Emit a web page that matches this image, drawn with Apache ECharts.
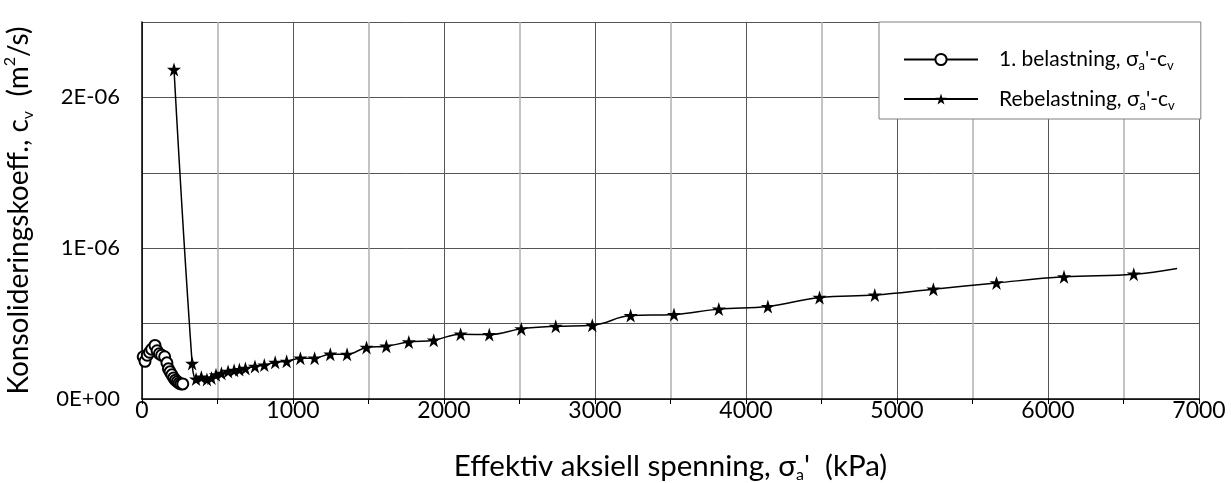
<!DOCTYPE html>
<html>
<head>
<meta charset="utf-8">
<script src="https://cdn.jsdelivr.net/npm/echarts@6/dist/echarts.min.js"></script>
<style>
html,body{margin:0;padding:0;background:#fff;}
#chart{width:1231px;height:483px;}
</style>
</head>
<body>
<div id="chart"></div>
<script>
// 1. belastning (first loading): effective axial stress (kPa) and cv (x 1E-06 m2/s)
const belastningX  = [8, 20, 35, 50, 64, 86, 100, 115, 130, 150, 165, 175, 186, 198, 210, 222, 234, 246, 258, 270];
const belastningCv = [0.28, 0.25, 0.29, 0.31, 0.33, 0.355, 0.32, 0.30, 0.29, 0.28, 0.24, 0.20, 0.18, 0.16, 0.14, 0.125, 0.115, 0.105, 0.10, 0.10];

// Rebelastning (reloading)
const rebelastningX  = [212, 332, 358, 393, 430, 460, 490, 526, 570, 610, 645, 685, 748, 810, 882, 958, 1049, 1143, 1247, 1358, 1487, 1618, 1767, 1932, 2110, 2300, 2512, 2740, 2982, 3236, 3523, 3820, 4145, 4487, 4853, 5241, 5659, 6106, 6568, 6855];
const rebelastningCv = [2.185, 0.236, 0.132, 0.144, 0.130, 0.140, 0.160, 0.170, 0.183, 0.190, 0.195, 0.203, 0.216, 0.225, 0.243, 0.250, 0.271, 0.271, 0.297, 0.296, 0.342, 0.350, 0.378, 0.390, 0.430, 0.427, 0.465, 0.482, 0.489, 0.553, 0.560, 0.596, 0.613, 0.673, 0.689, 0.728, 0.770, 0.810, 0.828, 0.866];
// last reloading point is drawn without a marker
const rebelastningNoMarker = [39];

const xTickLabels = ['0', '1000', '2000', '3000', '4000', '5000', '6000', '7000'];
const yTickLabels = ['0E+00', '1E-06', '2E-06'];

const seriesNames = ['1. belastning', 'Rebelastning'];

const FONT = 'Lato';
const STAR = 'path://M50,0 L61.2,34.5 L97.6,34.5 L68.2,55.9 L79.4,90.5 L50,69.1 L20.6,90.5 L31.8,55.9 L2.4,34.5 L38.8,34.5 Z';

const chart = echarts.init(document.getElementById('chart'), null, {renderer: 'canvas'});

const belData = belastningX.map((x, i) => [x, belastningCv[i]]);
const rebData = rebelastningX.map((x, i) => {
  const v = [x, rebelastningCv[i]];
  return rebelastningNoMarker.indexOf(i) >= 0 ? {value: v, symbol: 'none'} : v;
});

function titleRich(size) {
  return {
    t:   {fontFamily: FONT, fontSize: size, color: '#000', lineHeight: 34},
    sub: {fontFamily: FONT, fontSize: 16, color: '#000', lineHeight: 16, verticalAlign: 'bottom'},
    sup: {fontFamily: FONT, fontSize: 16, color: '#000', lineHeight: 16, verticalAlign: 'top'}
  };
}
const legendRich = {
  t:   {fontFamily: FONT, fontSize: 21, color: '#000', lineHeight: 26},
  sub: {fontFamily: FONT, fontSize: 13, color: '#000', lineHeight: 12, verticalAlign: 'bottom'}
};

chart.setOption({
  animation: false,
  backgroundColor: '#fff',
  grid: {left: 142, right: 32, top: 22, bottom: 84, containLabel: false, outerBoundsMode: 'none'},
  legend: {
    orient: 'vertical',
    left: 879,
    top: 22,
    padding: [27, 26, 7, 24],
    itemWidth: 74,
    itemHeight: 14,
    itemGap: 16,
    backgroundColor: '#fff',
    borderColor: '#7f7f7f',
    borderWidth: 1,
    data: seriesNames,
    formatter: function (name) {
      return '{t|' + name + ', σ}{sub|a}{t|\'-c}{sub|v}';
    },
    textStyle: {fontFamily: FONT, fontSize: 21, color: '#000', padding: [0, 0, 0, 16], rich: legendRich}
  },
  xAxis: {
    type: 'value',
    min: 0, max: 7000, interval: 1000,
    name: '{t|Effektiv aksiell spenning, σ}{sub|a}{t|\'  (kPa)}',
    nameLocation: 'middle',
    nameGap: 50,
    nameTextStyle: {rich: titleRich(29.5)},
    axisLine: {show: true, lineStyle: {color: '#000', width: 1.5}},
    axisTick: {show: true, length: 5, inside: false, lineStyle: {color: '#000'}},
    minorTick: {show: true, splitNumber: 2, length: 5, lineStyle: {color: '#000'}},
    axisLabel: {
      margin: 0,
      fontFamily: FONT, fontSize: 23, color: '#000',
      formatter: function (v) { return xTickLabels[Math.round(v / 1000)]; }
    },
    splitLine: {show: true, lineStyle: {color: '#555', width: 1}},
    minorSplitLine: {show: true, lineStyle: {color: '#b0b0b0', width: 1.5}}
  },
  yAxis: {
    type: 'value',
    min: 0, max: 2.5, interval: 0.5,
    name: '{t|Konsolideringskoeff., c}{sub|v}{t|  (m}{sup|2}{t|/s)}',
    nameLocation: 'middle',
    nameGap: 106,
    nameTextStyle: {rich: titleRich(28)},
    axisLine: {show: true, lineStyle: {color: '#000', width: 1.5}},
    axisTick: {show: false},
    axisLabel: {
      margin: 22,
      fontFamily: FONT, fontSize: 22, color: '#000',
      formatter: function (v) {
        const k = Math.round(v * 2);
        return k % 2 === 0 ? yTickLabels[k / 2] : '';
      }
    },
    splitLine: {show: true, lineStyle: {color: '#555', width: 1}}
  },
  series: [
    {
      name: seriesNames[0],
      type: 'line',
      data: belData,
      smooth: 0.4,
      symbol: 'emptyCircle',
      symbolSize: 11,
      showAllSymbol: true,
      itemStyle: {color: '#000', borderColor: '#000', borderWidth: 1},
      lineStyle: {color: '#000', width: 1.2},
      z: 3
    },
    {
      name: seriesNames[1],
      type: 'line',
      data: rebData,
      smooth: 0.4,
      symbol: STAR,
      symbolSize: 14,
      showAllSymbol: true,
      itemStyle: {color: '#000'},
      lineStyle: {color: '#000', width: 1.5},
      z: 4
    }
  ]
});
</script>
</body>
</html>
